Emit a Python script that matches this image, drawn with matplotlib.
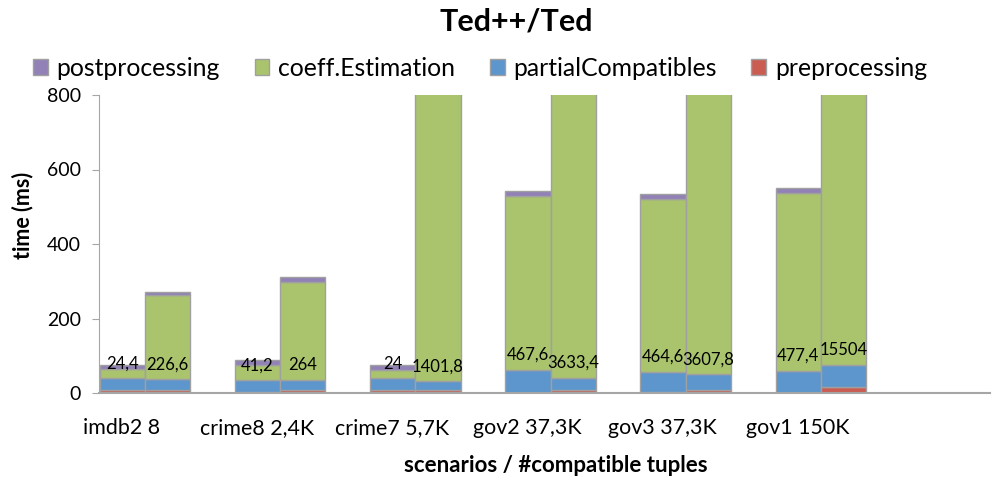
import matplotlib
matplotlib.use('Agg')
import matplotlib.pyplot as plt
import numpy as np
from matplotlib.patches import Patch

plt.rcParams['font.family'] = ['Lato', 'DejaVu Sans']

scenarios = ['imdb2 8', 'crime8 2,4K', 'crime7 5,7K', 'gov2 37,3K', 'gov3 37,3K', 'gov1 150K']

# Ted++ (left bar of each group)
pp_pre = [7, 3, 7, 1, 2, 1]
pp_partial = [32, 31, 32, 61, 55, 59]
pp_coeff = [24.4, 41.2, 24, 467.6, 464.6, 477.4]
pp_post = [11.5, 13, 12.5, 12.5, 12.5, 12.5]

# Ted (right bar of each group)
t_pre = [7, 7, 7, 7, 7, 17]
t_partial = [29.5, 27, 25, 34, 43, 57]
t_coeff = [226.6, 264, 1401.8, 3633.4, 3607.8, 15504]
t_post = [9, 12.5, 12, 12, 12, 12]

coeff_labels_pp = ['24,4', '41,2', '24', '467,6', '464,6', '477,4']
coeff_labels_t = ['226,6', '264', '1401,8', '3633,4', '3607,8', '15504']

c_post = '#9181B7'
c_coeff = '#A9C46C'
c_partial = '#5C96CC'
c_pre = '#CB5C52'
edge = '#A0A0A0'

fig = plt.figure(figsize=(9.92, 4.83), dpi=100)
ax = fig.add_axes([99/992, 1 - 393/483, (990 - 99)/992, (393 - 95)/483])

x = np.arange(len(scenarios))
w = 0.335


def stack(pos, pre, partial, coeff, post):
    bottom = np.zeros(len(pos))
    for vals, col in [(pre, c_pre), (partial, c_partial), (coeff, c_coeff), (post, c_post)]:
        ax.bar(pos, vals, w, bottom=bottom, color=col, edgecolor=edge, linewidth=1.0)
        bottom = bottom + np.array(vals)


stack(x - w/2, pp_pre, pp_partial, pp_coeff, pp_post)
stack(x + w/2, t_pre, t_partial, t_coeff, t_post)

# data labels just above the base of the coeff.Estimation segment
for i in range(len(scenarios)):
    b1 = pp_pre[i] + pp_partial[i]
    b2 = t_pre[i] + t_partial[i]
    ax.annotate(coeff_labels_pp[i], (x[i] - w/2, b1), xytext=(0, 5), textcoords='offset points',
                ha='center', va='bottom', fontsize=12)
    ax.annotate(coeff_labels_t[i], (x[i] + w/2, b2), xytext=(0, 5), textcoords='offset points',
                ha='center', va='bottom', fontsize=12)

ax.set_xlim(-0.34, 6.25)
ax.set_ylim(0, 800)
ax.set_yticks([0, 200, 400, 600, 800])
ax.set_xticks(x - 0.17)
ax.set_xticklabels(scenarios, fontsize=15.4)
ax.tick_params(axis='x', length=0, pad=18)
ax.tick_params(axis='y', labelsize=14, length=5, color='#A6A6A6', pad=8)
for s in ['top', 'right']:
    ax.spines[s].set_visible(False)
ax.spines['left'].set_color('#A6A6A6')
ax.spines['bottom'].set_color('#A6A6A6')
ax.spines['bottom'].set_linewidth(1.5)

fig.text(516/992, 1 - 21/483, 'Ted++/Ted', ha='center', va='center', fontsize=22, fontweight='bold')
fig.text(23/992, 1 - 215/483, 'time (ms)', ha='center', va='center', rotation=90,
         fontsize=15.5, fontweight='bold')
fig.text(556/992, 1 - 465/483, 'scenarios / #compatible tuples', ha='center', va='center',
         fontsize=16, fontweight='bold')

handles = [Patch(facecolor=c_post, edgecolor=edge), Patch(facecolor=c_coeff, edgecolor=edge),
           Patch(facecolor=c_partial, edgecolor=edge), Patch(facecolor=c_pre, edgecolor=edge)]
fig.legend(handles, ['postprocessing', 'coeff.Estimation', 'partialCompatibles', 'preprocessing'],
           loc='center', bbox_to_anchor=(480/992, 1 - 68/483), ncol=4, frameon=False,
           fontsize=17.8, handlelength=0.6, handleheight=0.6, handletextpad=0.35, columnspacing=1.4)

fig.savefig('out.png', dpi=100)
